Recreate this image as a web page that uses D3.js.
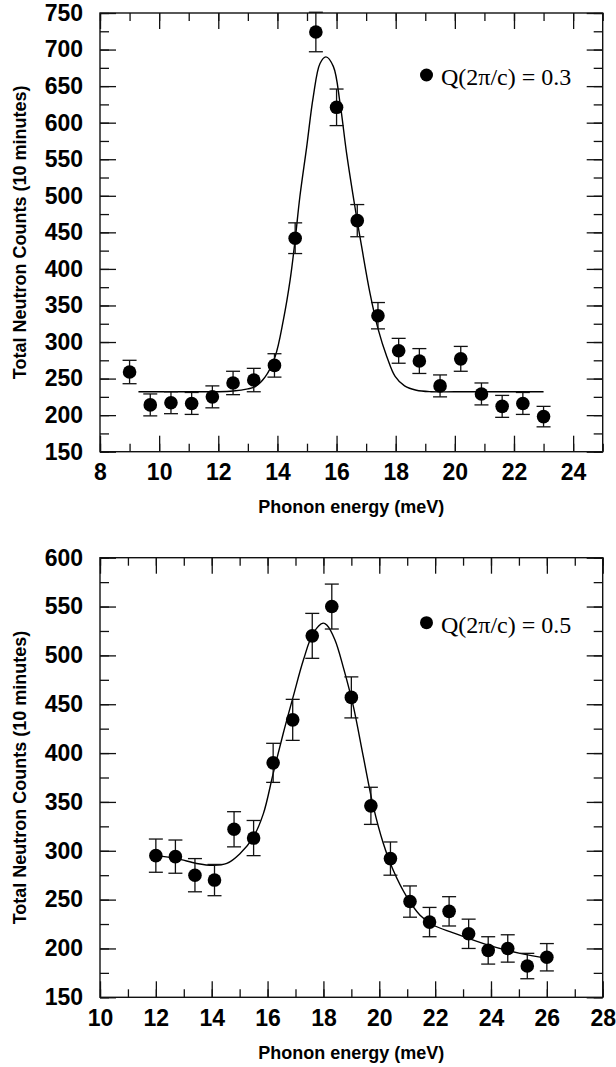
<!DOCTYPE html>
<html>
<head>
<meta charset="utf-8">
<script src="https://cdn.jsdelivr.net/npm/d3@7"></script>
<style>
    body { margin: 0; background: white; }
    svg { display: block; }
</style>
</head>
<body>
<script>
    // panel 1 : Q = 0.3
    var energy1 = [9.0, 9.7, 10.4, 11.1, 11.8, 12.5, 13.2, 13.9, 14.6, 15.3, 16.0, 16.7, 17.4, 18.1, 18.8, 19.5, 20.2, 20.9, 21.6, 22.3, 23.0];
    var counts1 = [259, 214, 217, 216, 225, 244, 248, 268, 442, 724, 621, 466, 336, 288, 274, 240, 277, 229, 212, 216, 198];
    var err1    = [16, 15, 15, 15, 15, 16, 16, 16, 21, 27, 25, 22, 18, 17, 17, 15, 17, 15, 15, 15, 14];
    var fitE1 = [9.3, 11.0, 12.0, 12.5, 13.0, 13.25, 13.58, 13.92, 14.2, 14.43, 14.6, 14.76, 14.99, 15.21, 15.44, 15.64, 15.89, 16.12, 16.34, 16.62, 16.85, 17.13, 17.41, 17.7, 17.98, 18.3, 18.7, 19.2, 20.0, 23.0];
    var fitC1 = [232, 232, 232, 233, 236, 239, 252, 280, 330, 385, 440, 499, 567, 635, 681, 690, 677, 626, 558, 485, 430, 367, 317, 280, 253, 240, 234, 232, 232, 232];
    var xTicks1 = [8, 10, 12, 14, 16, 18, 20, 22, 24];
    var yTicks1 = [150, 200, 250, 300, 350, 400, 450, 500, 550, 600, 650, 700, 750];
    var label1 = "Q(2\u03c0/c) = 0.3";

    // panel 2 : Q = 0.5
    var energy2 = [12.0, 12.7, 13.4, 14.1, 14.8, 15.5, 16.2, 16.9, 17.6, 18.3, 19.0, 19.7, 20.4, 21.1, 21.8, 22.5, 23.2, 23.9, 24.6, 25.3, 26.0];
    var counts2 = [295, 294, 275, 270, 322, 313, 390, 434, 520, 550, 457, 346, 292, 248, 227, 238, 215, 198, 200, 182, 191];
    var err2    = [17, 17, 17, 16, 18, 18, 20, 21, 23, 23, 21, 19, 17, 16, 15, 15, 15, 14, 14, 13, 14];
    var fitE2 = [12.0, 12.75, 13.46, 14.06, 14.54, 15.01, 15.49, 15.85, 16.2, 16.56, 16.92, 17.28, 17.64, 17.99, 18.12, 18.41, 18.71, 19.07, 19.43, 19.79, 20.14, 20.5, 20.98, 21.46, 21.93, 22.65, 23.84, 25.04, 26.0];
    var fitC2 = [295, 292, 287, 285, 287, 297, 314, 338, 379, 420, 458, 495, 523, 533, 531, 516, 488, 448, 396, 345, 308, 280, 253, 234, 224, 216, 204, 195, 190];
    var xTicks2 = [10, 12, 14, 16, 18, 20, 22, 24, 26, 28];
    var yTicks2 = [150, 200, 250, 300, 350, 400, 450, 500, 550, 600];
    var label2 = "Q(2\u03c0/c) = 0.5";

    var xTitle = "Phonon energy (meV)";
    var yTitle = "Total Neutron Counts (10 minutes)";

    var W = 616, H = 1067;
    var svg = d3.select("body").append("svg")
        .attr("width", W)
        .attr("height", H);

    var bold = "'Liberation Sans', Arial, Helvetica, sans-serif";

    function panel(p) {
        var left = 100, right = 602.7;
        var x = d3.scaleLinear().domain(p.xDomain).range([left, right]);
        var y = d3.scaleLinear().domain(p.yDomain).range([p.bottom, p.top]);
        var g = svg.append("g");

        var xMinor = d3.range(p.xDomain[0], p.xDomain[1] + 0.01, 1);
        var yMinor = d3.range(p.yDomain[0], p.yDomain[1] + 0.01, 25);

        function styleAxis(a) {
            a.select(".domain").remove();
            a.selectAll("line").attr("stroke", "#111").attr("stroke-width", 1.3);
            a.selectAll("text")
                .style("font-family", bold)
                .style("font-size", "23px")
                .style("font-weight", "700")
                .attr("fill", "#000");
        }

        // minor ticks on all four sides
        g.append("g").attr("transform", "translate(0," + p.bottom + ")")
            .call(d3.axisBottom(x).tickValues(xMinor).tickSize(-8).tickFormat(""))
            .call(styleAxis);
        g.append("g").attr("transform", "translate(0," + p.top + ")")
            .call(d3.axisTop(x).tickValues(xMinor).tickSize(-8).tickFormat(""))
            .call(styleAxis);
        g.append("g").attr("transform", "translate(" + left + ",0)")
            .call(d3.axisLeft(y).tickValues(yMinor).tickSize(-9).tickFormat(""))
            .call(styleAxis);
        g.append("g").attr("transform", "translate(" + right + ",0)")
            .call(d3.axisRight(y).tickValues(yMinor).tickSize(-9).tickFormat(""))
            .call(styleAxis);

        // major ticks + labels
        g.append("g").attr("transform", "translate(0," + p.bottom + ")")
            .call(d3.axisBottom(x).tickValues(p.xTicks).tickSize(-16).tickPadding(12).tickFormat(d3.format("d")))
            .call(styleAxis);
        g.append("g").attr("transform", "translate(0," + p.top + ")")
            .call(d3.axisTop(x).tickValues(p.xTicks).tickSize(-16).tickFormat(""))
            .call(styleAxis);
        g.append("g").attr("transform", "translate(" + left + ",0)")
            .call(d3.axisLeft(y).tickValues(p.yTicks).tickSize(-16).tickPadding(17).tickFormat(d3.format("d")))
            .call(styleAxis);
        g.append("g").attr("transform", "translate(" + right + ",0)")
            .call(d3.axisRight(y).tickValues(p.yTicks).tickSize(-16).tickFormat(""))
            .call(styleAxis);

        // frame
        g.append("rect")
            .attr("x", left).attr("y", p.top)
            .attr("width", right - left).attr("height", p.bottom - p.top)
            .attr("fill", "none")
            .attr("stroke", "#111")
            .attr("stroke-width", 1.4);

        // fit curve
        var fit = p.fitE.map(function(d, i) { return [d, p.fitC[i]]; });
        var line = d3.line()
            .x(function(d) { return x(d[0]); })
            .y(function(d) { return y(d[1]); })
            .curve(d3.curveCatmullRom.alpha(0.5));
        g.append("path")
            .datum(fit)
            .attr("fill", "none")
            .attr("stroke", "#000")
            .attr("stroke-width", 1.4)
            .attr("d", line);

        // error bars
        var pts = p.energy.map(function(d, i) { return {e: d, c: p.counts[i], s: p.err[i]}; });
        var eb = g.append("g").attr("stroke", "#111").attr("stroke-width", 1.3);
        eb.selectAll("line.v").data(pts).enter().append("line")
            .attr("x1", function(d) { return x(d.e); })
            .attr("x2", function(d) { return x(d.e); })
            .attr("y1", function(d) { return y(d.c - d.s); })
            .attr("y2", function(d) { return y(d.c + d.s); });
        [-1, 1].forEach(function(sg) {
            eb.selectAll(null).data(pts).enter().append("line")
                .attr("x1", function(d) { return x(d.e) - 7; })
                .attr("x2", function(d) { return x(d.e) + 7; })
                .attr("y1", function(d) { return y(d.c + sg * d.s); })
                .attr("y2", function(d) { return y(d.c + sg * d.s); });
        });

        // points
        g.append("g").selectAll("circle").data(pts).enter().append("circle")
            .attr("cx", function(d) { return x(d.e); })
            .attr("cy", function(d) { return y(d.c); })
            .attr("r", 6.8)
            .attr("fill", "#000");

        // legend
        g.append("circle")
            .attr("cx", 426.5).attr("cy", p.top + p.legY)
            .attr("r", 6.5).attr("fill", "#000");
        g.append("text")
            .attr("x", 441).attr("y", p.top + p.legY + 10)
            .style("font-family", "'Liberation Serif', 'Times New Roman', serif")
            .style("font-size", "24px")
            .text(p.label);

        // axis titles
        g.append("text")
            .attr("x", (left + right) / 2).attr("y", p.bottom + 61.5)
            .attr("text-anchor", "middle")
            .style("font-family", bold)
            .style("font-size", "18px")
            .style("font-weight", "700")
            .text(xTitle);
        g.append("text")
            .attr("transform", "translate(26," + ((p.top + p.bottom) / 2) + ") rotate(-90)")
            .attr("text-anchor", "middle")
            .style("font-family", bold)
            .style("font-size", "18px")
            .style("font-weight", "700")
            .text(yTitle);
    }

    panel({
        top: 13, bottom: 451.7,
        xDomain: [8, 25], yDomain: [150, 750],
        xTicks: xTicks1, yTicks: yTicks1,
        energy: energy1, counts: counts1, err: err1,
        fitE: fitE1, fitC: fitC1,
        label: label1, legY: 62
    });

    panel({
        top: 557.7, bottom: 997.3,
        xDomain: [10, 28], yDomain: [150, 600],
        xTicks: xTicks2, yTicks: yTicks2,
        energy: energy2, counts: counts2, err: err2,
        fitE: fitE2, fitC: fitC2,
        label: label2, legY: 65
    });
</script>
</body>
</html>
